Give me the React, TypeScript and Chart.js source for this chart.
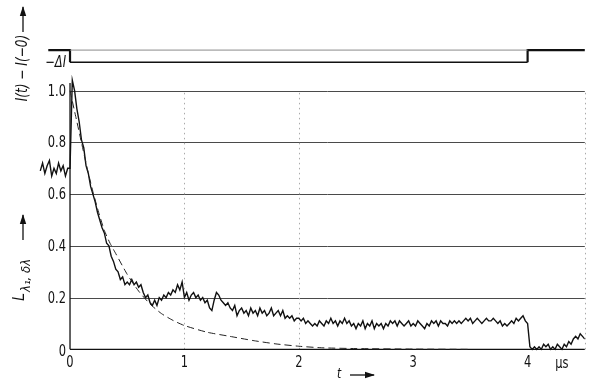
import React, { useEffect, useRef } from "react";
import { Chart, registerables } from "chart.js";

Chart.register(...registerables);

// sampling grid of the recorded trace (µs)
const TIME_START = -0.26;
const TIME_STEP = 0.02;

// L(λ1, δλ) trace, piecewise
const PRE_TRIGGER = [0.69, 0.72, 0.68, 0.71, 0.73, 0.67, 0.70, 0.68, 0.72, 0.69, 0.71, 0.67, 0.70, 0.70];
const DECAY_0_05 = [1.04, 1.00, 0.93, 0.88, 0.81, 0.78, 0.71, 0.68, 0.63, 0.60, 0.57, 0.53, 0.50, 0.47, 0.45, 0.41, 0.40, 0.36, 0.34, 0.31, 0.30, 0.27, 0.28, 0.25];
const SEG_05_10 = [0.26, 0.25, 0.27, 0.25, 0.26, 0.24, 0.25, 0.22, 0.20, 0.21, 0.18, 0.17, 0.19, 0.17, 0.20, 0.19, 0.21, 0.20, 0.22, 0.21, 0.23, 0.22, 0.25, 0.23, 0.26];
const SEG_10_15 = [0.20, 0.22, 0.19, 0.21, 0.22, 0.20, 0.21, 0.19, 0.20, 0.18, 0.19, 0.16, 0.15, 0.19, 0.22, 0.21, 0.19, 0.18, 0.17, 0.18, 0.16, 0.15, 0.17, 0.13, 0.15];
const SEG_15_20 = [0.16, 0.14, 0.15, 0.13, 0.16, 0.14, 0.15, 0.13, 0.16, 0.14, 0.15, 0.13, 0.14, 0.16, 0.13, 0.14, 0.15, 0.13, 0.15, 0.12, 0.13, 0.12, 0.13, 0.11, 0.12];
const SEG_20_25 = [0.12, 0.11, 0.12, 0.10, 0.11, 0.10, 0.09, 0.10, 0.09, 0.11, 0.10, 0.09, 0.11, 0.10, 0.12, 0.10, 0.11, 0.09, 0.11, 0.10, 0.12, 0.10, 0.11, 0.09, 0.10];
const SEG_25_30 = [0.08, 0.10, 0.09, 0.11, 0.08, 0.10, 0.09, 0.11, 0.08, 0.10, 0.09, 0.10, 0.08, 0.10, 0.09, 0.11, 0.10, 0.11, 0.09, 0.11, 0.10, 0.09, 0.10, 0.11, 0.09];
const SEG_30_35 = [0.10, 0.09, 0.11, 0.10, 0.09, 0.08, 0.10, 0.09, 0.11, 0.10, 0.11, 0.09, 0.11, 0.10, 0.10, 0.09, 0.11, 0.10, 0.11, 0.10, 0.11, 0.10, 0.11, 0.12, 0.11];
const SEG_35_40 = [0.12, 0.10, 0.11, 0.12, 0.11, 0.10, 0.11, 0.12, 0.11, 0.11, 0.12, 0.11, 0.10, 0.11, 0.09, 0.10, 0.09, 0.10, 0.11, 0.10, 0.12, 0.11, 0.12, 0.13, 0.11];
const SEG_40_45 = [0.10, 0.01, 0.00, 0.01, 0.00, 0.01, 0.00, 0.02, 0.01, 0.02, 0.00, 0.01, 0.00, 0.02, 0.01, 0.00, 0.02, 0.01, 0.03, 0.02, 0.04, 0.05, 0.04, 0.06, 0.05, 0.04];

// dashed model curve
const DASH_T = [0, 0.05, 0.1, 0.15, 0.2, 0.25, 0.3, 0.35, 0.4, 0.5, 0.6, 0.7, 0.8, 0.9, 1.0, 1.2, 1.4, 1.6, 1.8, 2.0, 2.2, 2.5, 3.0, 3.5];
const DASH_Y = [1.0, 0.9, 0.8, 0.7, 0.61, 0.53, 0.46, 0.41, 0.37, 0.29, 0.225, 0.175, 0.138, 0.112, 0.092, 0.066, 0.05, 0.034, 0.021, 0.012, 0.006, 0.003, 0.001, 0];

// current step I(t) - I(-0)
const STEP_T = [-0.19, 0, 0, 4, 4, 4.52];
const STEP_Y = [1.157, 1.157, 1.11, 1.11, 1.157, 1.157];
const BASE_T = [0, 4];
const BASE_Y = [1.157, 1.157];

const GRID_Y = [0.2, 0.4, 0.6, 0.8, 1.0];
const Y_TICKS = [0, 0.2, 0.4, 0.6, 0.8, 1.0];
const Y_TICK_LABELS = ["0", "0.2", "0.4", "0.6", "0.8", "1.0"];
const X_TICKS = [0, 1, 2, 3, 4];
const X_TICK_LABELS = ["0", "1", "2", "3", "4"];
const V_LINES = [1, 2, 4.5];

const FONT = '"Liberation Sans Narrow", "DejaVu Sans Condensed", "Liberation Sans", sans-serif';

function txt(ctx: CanvasRenderingContext2D, s: string, x: number, y: number, size: number, align: CanvasTextAlign, italic = false, sx = 0.85) {
  ctx.save();
  ctx.translate(x, y);
  ctx.scale(sx, 1);
  ctx.font = `${italic ? "italic " : ""}${size}px ${FONT}`;
  ctx.textAlign = align;
  ctx.textBaseline = "middle";
  ctx.fillStyle = "#111";
  ctx.fillText(s, 0, 0);
  ctx.restore();
}

function arrow(ctx: CanvasRenderingContext2D, x1: number, y1: number, x2: number, y2: number) {
  ctx.save();
  ctx.strokeStyle = "#111";
  ctx.fillStyle = "#111";
  ctx.lineWidth = 1.3;
  ctx.beginPath();
  ctx.moveTo(x1, y1);
  ctx.lineTo(x2, y2);
  ctx.stroke();
  const a = Math.atan2(y2 - y1, x2 - x1);
  const L = 9, W = 3.2;
  ctx.beginPath();
  ctx.moveTo(x2 + Math.cos(a) * 1, y2 + Math.sin(a) * 1);
  ctx.lineTo(x2 - Math.cos(a) * L - Math.sin(a) * W, y2 - Math.sin(a) * L + Math.cos(a) * W);
  ctx.lineTo(x2 - Math.cos(a) * L + Math.sin(a) * W, y2 - Math.sin(a) * L - Math.cos(a) * W);
  ctx.closePath();
  ctx.fill();
  ctx.restore();
}

const decor = {
  id: "decor",
  beforeDatasetsDraw(chart: any) {
    const { ctx, scales } = chart;
    const x = scales.x, y = scales.y;
    const x0 = x.getPixelForValue(0);
    const xr = x.getPixelForValue(4.5);
    ctx.save();
    // horizontal grid
    ctx.strokeStyle = "#4a4a4a";
    ctx.lineWidth = 1;
    GRID_Y.forEach((v) => {
      const py = Math.round(y.getPixelForValue(v)) + 0.5;
      ctx.beginPath();
      ctx.moveTo(x0, py);
      ctx.lineTo(xr, py);
      ctx.stroke();
    });
    // vertical dotted lines
    ctx.strokeStyle = "#aaa";
    ctx.setLineDash([1.5, 3.5]);
    V_LINES.forEach((v) => {
      const px = Math.round(x.getPixelForValue(v)) + 0.5;
      ctx.beginPath();
      ctx.moveTo(px, y.getPixelForValue(0));
      ctx.lineTo(px, y.getPixelForValue(1.0));
      ctx.stroke();
    });
    ctx.setLineDash([]);
    // axes
    ctx.strokeStyle = "#111";
    ctx.lineWidth = 1.3;
    const py0 = y.getPixelForValue(0);
    ctx.beginPath();
    ctx.moveTo(x0, py0);
    ctx.lineTo(xr, py0);
    ctx.stroke();
    ctx.beginPath();
    ctx.moveTo(x0, py0);
    ctx.lineTo(x0, y.getPixelForValue(1.03));
    ctx.stroke();
    ctx.restore();
  },
  afterDatasetsDraw(chart: any) {
    const { ctx, scales } = chart;
    const x = scales.x, y = scales.y;
    const x0 = x.getPixelForValue(0);
    // y tick labels
    Y_TICKS.forEach((v, i) => {
      const off = v === 0 ? 3 : 1;
      txt(ctx, Y_TICK_LABELS[i], x0 - 4, y.getPixelForValue(v) + off, 15, "right");
    });
    // x tick labels
    X_TICKS.forEach((v, i) => {
      txt(ctx, X_TICK_LABELS[i], x.getPixelForValue(v), 363, 15, "center");
    });
    txt(ctx, "µs", x.getPixelForValue(4.3), 364, 15, "center");
    // t arrow
    txt(ctx, "t", 339, 374, 14, "center", true);
    arrow(ctx, 350, 375, 374, 375);
    // -ΔI
    txt(ctx, "−ΔI", x0 - 4, y.getPixelForValue(1.11) + 1, 15, "right", true);
    // rotated label top
    ctx.save();
    ctx.translate(23, 68);
    ctx.rotate(-Math.PI / 2);
    txt(ctx, "I(t) − I(−0)", 0, 0, 15, "center", true, 0.9);
    ctx.restore();
    arrow(ctx, 23, 32, 23, 7);
    // rotated label bottom
    ctx.save();
    ctx.translate(24, 301);
    ctx.rotate(-Math.PI / 2);
    ctx.font = `italic 16px ${FONT}`;
    ctx.fillStyle = "#111";
    ctx.textBaseline = "alphabetic";
    ctx.textAlign = "left";
    ctx.fillText("L", 0, 0);
    ctx.font = `italic 13px ${FONT}`;
    ctx.fillText("λ₁, δλ", 9, 6);
    ctx.restore();
    arrow(ctx, 23, 240, 23, 215);
  },
};

export default function App() {
  const ref = useRef<HTMLCanvasElement | null>(null);
  useEffect(() => {
    if (!ref.current) return;
    const traceY = [
      ...PRE_TRIGGER, ...DECAY_0_05, ...SEG_05_10, ...SEG_10_15, ...SEG_15_20,
      ...SEG_20_25, ...SEG_25_30, ...SEG_30_35, ...SEG_35_40, ...SEG_40_45,
    ];
    const trace = traceY.map((v, i) => ({ x: +(TIME_START + i * TIME_STEP).toFixed(2), y: v }));
    const dash = DASH_T.map((t, i) => ({ x: t, y: DASH_Y[i] }));
    const step = STEP_T.map((t, i) => ({ x: t, y: STEP_Y[i] }));
    const base = BASE_T.map((t, i) => ({ x: t, y: BASE_Y[i] }));
    const chart = new Chart(ref.current, {
      type: "line",
      data: {
        datasets: [
          { data: base, borderColor: "#8a8a8a", borderWidth: 1, pointRadius: 0, tension: 0 },
          {
            data: step, borderColor: "#111", borderWidth: 2, pointRadius: 0, tension: 0,
            segment: { borderWidth: (c: any) => (c.p0DataIndex === 2 ? 1.3 : 2.2) },
          } as any,
          { data: dash, borderColor: "#222", borderWidth: 1, borderDash: [7, 4], pointRadius: 0, tension: 0.2 },
          { data: trace, borderColor: "#111", borderWidth: 1.4, pointRadius: 0, tension: 0 },
        ],
      },
      options: {
        animation: false,
        responsive: false,
        layout: { padding: { left: 35.7, right: 6.2, top: 13.1, bottom: 22.9 } },
        plugins: { legend: { display: false }, tooltip: { enabled: false } },
        scales: {
          x: { type: "linear", min: -0.3, max: 4.5, display: false },
          y: { type: "linear", min: -0.03, max: 1.3, display: false },
        },
      },
      plugins: [decor],
    });
    return () => chart.destroy();
  }, []);
  return (
    <div style={{ position: "absolute", left: 0, top: 0, width: 591, height: 380, background: "#fff" }}>
      <canvas ref={ref} width={591} height={380} style={{ display: "block" }} />
    </div>
  );
}
